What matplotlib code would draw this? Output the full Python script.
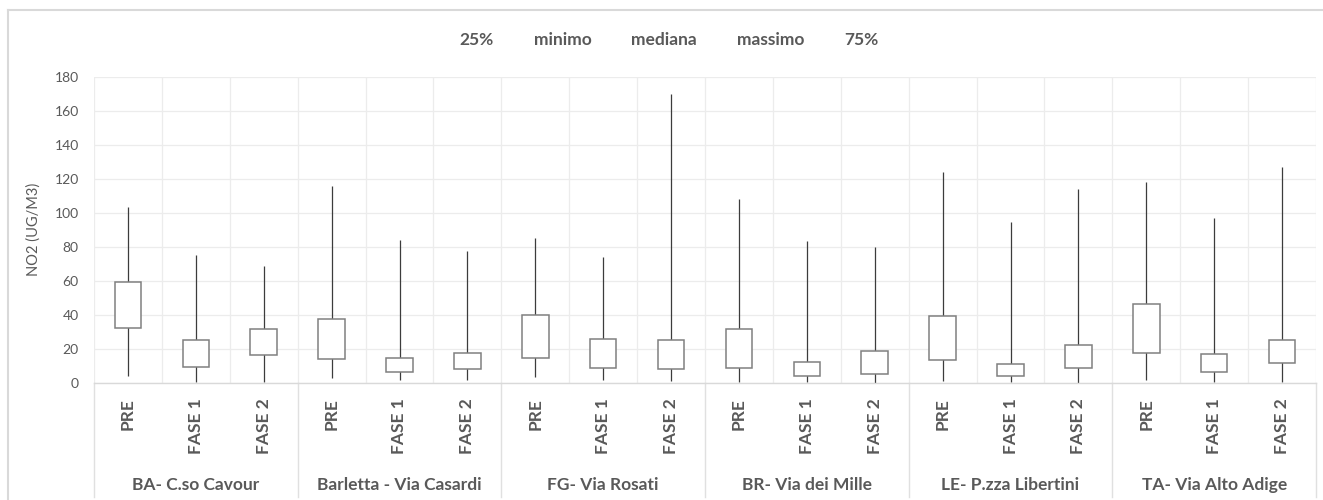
import matplotlib
matplotlib.use("Agg")
import matplotlib.pyplot as plt
from matplotlib.lines import Line2D
from matplotlib.transforms import blended_transform_factory
import numpy as np

plt.rcParams['font.family'] = ['Lato', 'DejaVu Sans']

# Stations and measurement phases
stations = ["BA- C.so Cavour", "Barletta - Via Casardi", "FG- Via Rosati",
            "BR- Via dei Mille", "LE- P.zza Libertini", "TA- Via Alto Adige"]
phases = ["PRE", "FASE 1", "FASE 2"]

# NO2 statistics (ug/m3), one value per station/phase in order
q25 = [32.2, 9.4, 16.3, 13.7, 6.3, 7.8, 14.3, 8.8, 7.8,
       8.8, 3.7, 5.1, 13.1, 3.7, 8.8, 17.3, 6.3, 11.4]
minimo = [4.1, 0.6, 0.6, 2.5, 1.6, 1.6, 3.1, 1.6, 1.2,
          0.6, 0.6, 0.0, 1.0, 0.6, 0.0, 1.6, 0.6, 0.6]
massimo = [103.1, 74.9, 68.4, 115.7, 83.9, 77.5, 84.9, 73.9, 169.6,
           107.8, 83.5, 80.0, 123.9, 94.5, 114.1, 118.0, 97.0, 126.7]
q75 = [59.0, 24.9, 31.4, 37.5, 14.3, 17.3, 39.8, 25.5, 24.9,
       31.4, 12.4, 18.4, 39.0, 10.8, 22.4, 46.1, 16.9, 24.9]

legend_labels = ["25%", "minimo", "mediana", "massimo", "75%"]
yticks = list(range(0, 181, 20))

W, H = 1323, 500
fig = plt.figure(figsize=(W / 100, H / 100), dpi=100)
ax = fig.add_axes([94 / W, 1 - 382.7 / H, (1316 - 94) / W, 306 / H])

n = len(q25)
x = np.arange(n)
labels = [p for _ in stations for p in phases]

txt_col = "#595959"
grid_col = "#ececec"

# whiskers from minimum to maximum, box from 25% to 75%
ax.vlines(x, minimo, massimo, color="#3c3c3c", linewidth=0.9, zorder=2)
ax.bar(x, np.array(q75) - np.array(q25), bottom=q25, width=0.39,
       facecolor="white", edgecolor="#808080", linewidth=1.1, zorder=3)

ax.set_xlim(-0.5, n - 0.5)
ax.set_ylim(0, 180)
ax.set_yticks(yticks)
ax.tick_params(axis="y", length=0, labelsize=10, colors=txt_col, pad=11)
ax.set_xticks(np.arange(-0.5, n, 1.0), minor=True)
ax.set_xticks([])
ax.tick_params(axis="x", which="both", length=0)
ax.grid(axis="y", color=grid_col, linewidth=0.9, zorder=0)
ax.grid(axis="x", which="minor", color=grid_col, linewidth=0.9, zorder=0)
for s in ["top", "right", "left"]:
    ax.spines[s].set_visible(False)
ax.spines["bottom"].set_color("#d9d9d9")
ax.spines["bottom"].set_linewidth(1.0)
ax.set_axisbelow(True)

ax.set_ylabel("NO2 (UG/M3)", fontsize=10.5, color=txt_col)
ax.yaxis.set_label_coords(-0.0434, 0.5)

trans = blended_transform_factory(ax.transData, ax.transAxes)

# phase labels under each box
for xi, lab in zip(x, labels):
    ax.text(xi, -0.05, lab, rotation=90, ha="center", va="top",
            transform=trans, fontsize=12.5, fontweight="bold", color=txt_col)

# station labels and separators
for i, st in enumerate(stations):
    ax.text(3 * i + 1, -0.334, st, ha="center", va="center", transform=trans,
            fontsize=12.5, fontweight="bold", color=txt_col)
for b in np.arange(-0.5, n, 3.0):
    ax.plot([b, b], [0, -0.3735], transform=trans, color="#e0e0e0",
            linewidth=1.0, clip_on=False)

# legend with text-only entries
handles = [Line2D([], [], linestyle="none") for _ in legend_labels]
leg = fig.legend(handles, legend_labels, loc="center", ncol=5,
                 bbox_to_anchor=(669 / W, 1 - 40 / H), frameon=False,
                 handlelength=0, handletextpad=0, columnspacing=2.3,
                 prop={"size": 12.5, "weight": "bold"})
for t in leg.get_texts():
    t.set_color(txt_col)

# chart frame
fig.add_artist(Line2D([8 / W, 1], [1 - 10 / H, 1 - 10 / H], transform=fig.transFigure,
                      color="#d9d9d9", linewidth=1.5))
fig.add_artist(Line2D([8 / W, 8 / W], [0, 1 - 10 / H], transform=fig.transFigure,
                      color="#d9d9d9", linewidth=1.5))

fig.savefig("out.png", dpi=100)
